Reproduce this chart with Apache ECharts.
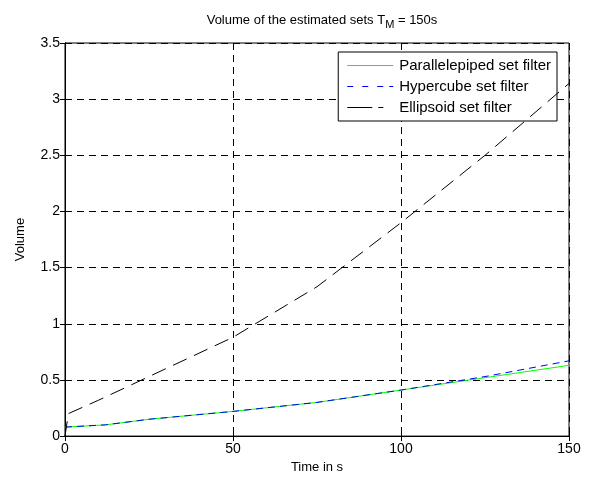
<!DOCTYPE html>
<html>
<head>
<meta charset="utf-8">
<script src="https://cdn.jsdelivr.net/npm/echarts@6/dist/echarts.min.js"></script>
<style>
  html, body { margin: 0; padding: 0; background: #fff; }
  #chart { width: 592px; height: 479px; }
</style>
</head>
<body>
<div id="chart"></div>
<script>
// time samples (s)
const setTimes = [0, 12, 25, 50, 75, 100, 125, 150]
const parallelepipedVol = [0.08, 0.1, 0.15, 0.22, 0.3, 0.41, 0.52, 0.63]
const hypercubeVol = [0.08, 0.1, 0.15, 0.22, 0.3, 0.41, 0.53, 0.67]

const ellipsoidTimes = [0, 1, 10, 25, 50, 75, 100, 125, 150]
const ellipsoidVol = [0, 0.2, 0.32, 0.53, 0.88, 1.33, 1.9, 2.5, 3.14]

const font = 'Liberation Sans, Arial, sans-serif'

// 拼 [t, v] 点
function pairs(ts, vs) {
  return ts.map((t, i) => [t, vs[i]])
}

// legend icon: thin horizontal segments, box kept 46x13 by the two bare moveTo's
function segIcon(segs) {
  let p = 'path://M0,0 M46,13'
  segs.forEach(([a, b]) => { p += ` M${a},6 L${b},6 L${b},7 L${a},7 Z` })
  return p
}

const chart = echarts.init(document.getElementById('chart'))

const gridLine = { show: true, lineStyle: { color: '#000', width: 1, type: [7, 5] } }
const tick = { show: true, inside: true, length: 5, lineStyle: { color: '#000' } }

const option = {
  animation: false,
  backgroundColor: '#fff',
  title: {
    text: 'Volume of the estimated sets T{sub|M} = 150s',
    left: 317,
    top: 5,
    textAlign: 'center',
    textStyle: {
      fontFamily: font,
      fontSize: 13,
      fontWeight: 'normal',
      color: '#000',
      rich: {
        sub: { fontFamily: font, fontSize: 11, color: '#000', verticalAlign: 'bottom', padding: [9, 0, 0, 0] }
      }
    }
  },
  grid: { left: 65, right: 23, top: 43, bottom: 39, show: true, borderColor: '#000', borderWidth: 1 },
  legend: {
    orient: 'vertical',
    right: 35,
    top: 52,
    backgroundColor: '#fff',
    borderColor: '#000',
    borderWidth: 1,
    borderRadius: 0,
    padding: [6, 6, 6, 9],
    itemGap: 6,
    itemWidth: 46,
    itemHeight: 13,
    data: [
      { name: 'Parallelepiped set filter', icon: segIcon([[0, 46]]), itemStyle: { color: '#00ff00', opacity: 1 } },
      { name: 'Hypercube set filter', icon: segIcon([[0, 6], [15, 21], [30, 36], [42, 46]]), itemStyle: { color: '#0000ff', opacity: 1 } },
      { name: 'Ellipsoid set filter', icon: segIcon([[0, 25], [31, 36]]), itemStyle: { color: '#000', opacity: 1 } }
    ],
    textStyle: { fontFamily: font, fontSize: 15, color: '#000', padding: [0, 0, 0, 1] }
  },
  xAxis: [
    {
      type: 'value',
      min: 0, max: 150, interval: 50,
      name: 'Time in s',
      nameLocation: 'middle',
      nameGap: 21,
      nameTextStyle: { fontFamily: font, fontSize: 13, color: '#000' },
      axisLine: { show: true, lineStyle: { color: '#000' } },
      axisTick: tick,
      axisLabel: { fontFamily: font, fontSize: 14, color: '#000', margin: 6 },
      splitLine: gridLine
    },
    {
      type: 'value', position: 'top',
      min: 0, max: 150, interval: 50,
      axisLine: { show: true, lineStyle: { color: '#000' } },
      axisTick: tick,
      axisLabel: { show: false },
      splitLine: { show: false }
    }
  ],
  yAxis: [
    {
      type: 'value',
      min: 0, max: 3.5, interval: 0.5,
      name: 'Volume',
      nameLocation: 'middle',
      nameGap: 38,
      nameTextStyle: { fontFamily: font, fontSize: 13, color: '#000' },
      axisLine: { show: true, lineStyle: { color: '#000' } },
      axisTick: tick,
      axisLabel: { fontFamily: font, fontSize: 14, color: '#000', margin: 5 },
      splitLine: gridLine
    },
    {
      type: 'value', position: 'right',
      min: 0, max: 3.5, interval: 0.5,
      axisLine: { show: true, lineStyle: { color: '#000' } },
      axisTick: tick,
      axisLabel: { show: false },
      splitLine: { show: false }
    }
  ],
  series: [
    {
      name: 'Parallelepiped set filter',
      type: 'line',
      symbol: 'none',
      data: pairs(setTimes, parallelepipedVol),
      lineStyle: { color: '#00ff00', width: 1, type: 'solid' },
      itemStyle: { color: '#00ff00' },
      z: 3
    },
    {
      name: 'Hypercube set filter',
      type: 'line',
      symbol: 'none',
      data: pairs(setTimes, hypercubeVol),
      lineStyle: { color: '#0000ff', width: 1, type: [7, 5] },
      itemStyle: { color: '#0000ff' },
      z: 4
    },
    {
      name: 'Ellipsoid set filter',
      type: 'line',
      symbol: 'none',
      data: pairs(ellipsoidTimes, ellipsoidVol),
      lineStyle: { color: '#000', width: 1, type: [15, 8] },
      itemStyle: { color: '#000' },
      z: 5
    }
  ]
}

chart.setOption(option)
</script>
</body>
</html>
